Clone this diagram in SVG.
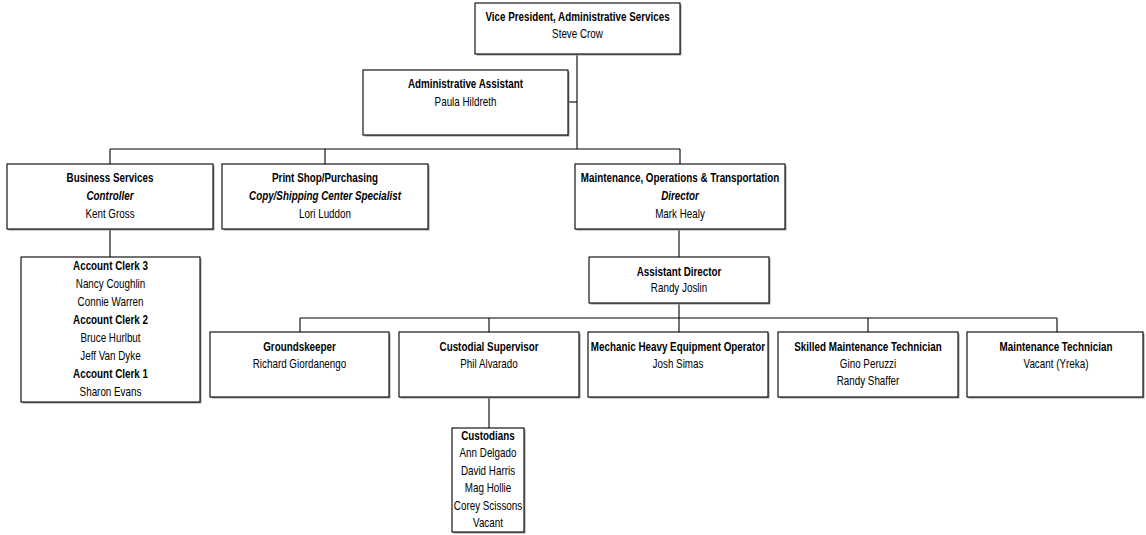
<svg xmlns="http://www.w3.org/2000/svg" width="1146" height="535" viewBox="0 0 1146 535">
  <style>
    .box { fill: #ffffff; stroke: #000000; stroke-width: 1.1; }
    .shadow { fill: #9a9a9a; }
    .wire { stroke: #000000; stroke-width: 1.1; fill: none; }
    text { font-family: "Liberation Sans", Arial, sans-serif; font-size: 12px; text-anchor: middle; fill: #000000; }
    .t { font-weight: bold; }
    .i { font-weight: bold; font-style: italic; }
  </style>
  <rect width="1146" height="535" fill="#ffffff"/>

  <!-- reporting lines -->
  <g id="connectors" class="wire">
    <path d="M577 54 V149"/>
    <path d="M568 102 H577"/>
    <path d="M110 149 H680"/>
    <path d="M110 149 V164"/>
    <path d="M325 149 V164"/>
    <path d="M680 149 V164"/>
    <path d="M110 229 V257"/>
    <path d="M679 229 V257"/>
    <path d="M679 303 V318"/>
    <path d="M300 318 H1057"/>
    <path d="M300 318 V332"/>
    <path d="M489 318 V332"/>
    <path d="M679 318 V332"/>
    <path d="M868 318 V332"/>
    <path d="M1057 318 V332"/>
    <path d="M489 397 V428"/>
  </g>

  <g id="vp">
    <rect class="shadow" x="476.5" y="4.5" width="205" height="51"/>
    <rect class="box" x="475" y="3" width="205" height="51"/>
    <g transform="translate(577.5 0) scale(0.82 1)">
      <text class="t" x="0" y="21">Vice President, Administrative Services</text>
      <text x="0" y="38.5">Steve Crow</text>
    </g>
  </g>

  <g id="admin-assistant">
    <rect class="shadow" x="364.5" y="71.5" width="205" height="65"/>
    <rect class="box" x="363" y="70" width="205" height="65"/>
    <g transform="translate(465.5 0) scale(0.82 1)">
      <text class="t" x="0" y="88.5">Administrative Assistant</text>
      <text x="0" y="106">Paula Hildreth</text>
    </g>
  </g>

  <g id="business-services">
    <rect class="shadow" x="8.5" y="165.5" width="206" height="65"/>
    <rect class="box" x="7" y="164" width="206" height="65"/>
    <g transform="translate(110 0) scale(0.82 1)">
      <text class="t" x="0" y="182">Business Services</text>
      <text class="i" x="0" y="200">Controller</text>
      <text x="0" y="218">Kent Gross</text>
    </g>
  </g>

  <g id="print-shop">
    <rect class="shadow" x="223.5" y="165.5" width="206" height="65"/>
    <rect class="box" x="222" y="164" width="206" height="65"/>
    <g transform="translate(325 0) scale(0.82 1)">
      <text class="t" x="0" y="182">Print Shop/Purchasing</text>
      <text class="i" x="0" y="200">Copy/Shipping Center Specialist</text>
      <text x="0" y="218">Lori Luddon</text>
    </g>
  </g>

  <g id="mot-director">
    <rect class="shadow" x="576.5" y="165.5" width="210" height="65"/>
    <rect class="box" x="575" y="164" width="210" height="65"/>
    <g transform="translate(680 0) scale(0.82 1)">
      <text class="t" x="0" y="182">Maintenance, Operations &amp; Transportation</text>
      <text class="i" x="0" y="200">Director</text>
      <text x="0" y="218">Mark Healy</text>
    </g>
  </g>

  <g id="account-clerks">
    <rect class="shadow" x="22.5" y="258.5" width="179" height="145"/>
    <rect class="box" x="21" y="257" width="179" height="145"/>
    <g transform="translate(110.5 0) scale(0.82 1)">
      <text class="t" x="0" y="270">Account Clerk 3</text>
      <text x="0" y="288">Nancy Coughlin</text>
      <text x="0" y="306">Connie Warren</text>
      <text class="t" x="0" y="324">Account Clerk 2</text>
      <text x="0" y="342">Bruce Hurlbut</text>
      <text x="0" y="360">Jeff Van Dyke</text>
      <text class="t" x="0" y="378">Account Clerk 1</text>
      <text x="0" y="396">Sharon Evans</text>
    </g>
  </g>

  <g id="assistant-director">
    <rect class="shadow" x="590.5" y="258.5" width="180" height="46"/>
    <rect class="box" x="589" y="257" width="180" height="46"/>
    <g transform="translate(679 0) scale(0.82 1)">
      <text class="t" x="0" y="276">Assistant Director</text>
      <text x="0" y="292">Randy Joslin</text>
    </g>
  </g>

  <g id="groundskeeper">
    <rect class="shadow" x="211.5" y="333.5" width="179" height="65"/>
    <rect class="box" x="210" y="332" width="179" height="65"/>
    <g transform="translate(299.5 0) scale(0.82 1)">
      <text class="t" x="0" y="351">Groundskeeper</text>
      <text x="0" y="368">Richard Giordanengo</text>
    </g>
  </g>

  <g id="custodial-supervisor">
    <rect class="shadow" x="400.5" y="333.5" width="180" height="65"/>
    <rect class="box" x="399" y="332" width="180" height="65"/>
    <g transform="translate(489 0) scale(0.82 1)">
      <text class="t" x="0" y="351">Custodial Supervisor</text>
      <text x="0" y="368">Phil Alvarado</text>
    </g>
  </g>

  <g id="mechanic">
    <rect class="shadow" x="589.5" y="333.5" width="180" height="65"/>
    <rect class="box" x="588" y="332" width="180" height="65"/>
    <g transform="translate(678 0) scale(0.82 1)">
      <text class="t" x="0" y="351">Mechanic Heavy Equipment Operator</text>
      <text x="0" y="368">Josh Simas</text>
    </g>
  </g>

  <g id="skilled-maintenance">
    <rect class="shadow" x="779.5" y="333.5" width="180" height="65"/>
    <rect class="box" x="778" y="332" width="180" height="65"/>
    <g transform="translate(868 0) scale(0.82 1)">
      <text class="t" x="0" y="351">Skilled Maintenance Technician</text>
      <text x="0" y="368">Gino Peruzzi</text>
      <text x="0" y="385">Randy Shaffer</text>
    </g>
  </g>

  <g id="maintenance-tech">
    <rect class="shadow" x="968.5" y="333.5" width="176" height="65"/>
    <rect class="box" x="967" y="332" width="176" height="65"/>
    <g transform="translate(1056 0) scale(0.82 1)">
      <text class="t" x="0" y="351">Maintenance Technician</text>
      <text x="0" y="368">Vacant (Yreka)</text>
    </g>
  </g>

  <g id="custodians">
    <rect class="shadow" x="453.5" y="429.5" width="72" height="104"/>
    <rect class="box" x="452" y="428" width="72" height="104"/>
    <g transform="translate(488 0) scale(0.82 1)">
      <text class="t" x="0" y="440">Custodians</text>
      <text x="0" y="457.5">Ann Delgado</text>
      <text x="0" y="475">David Harris</text>
      <text x="0" y="492.5">Mag Hollie</text>
      <text x="0" y="510">Corey Scissons</text>
      <text x="0" y="527.5">Vacant</text>
    </g>
  </g>
</svg>
